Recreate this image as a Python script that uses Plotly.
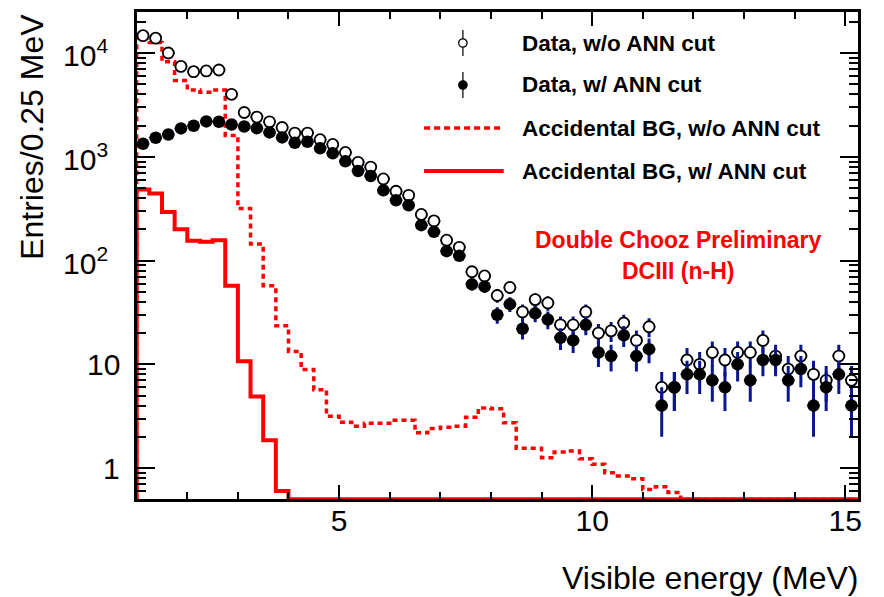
import numpy as np
import plotly.graph_objects as go

# ---------------- data ----------------
BIN_WIDTH = 0.25
E_MIN, E_MAX = 1.0, 15.25
Y_MIN, Y_MAX = 0.5, 25000.0

# Data, w/o ANN cut (entries per 0.25 MeV bin, bins from 1.0 to 15.25 MeV)
data_wo_ann = [14700, 13900, 10000, 7430, 6610, 6710, 6860, 4000,
               2670, 2410, 2170, 1915, 1690, 1690, 1460, 1315,
               1100, 883, 796, 611, 465, 425, 278, 241,
               157, 134, 78, 71, 46, 55, 32, 42,
               39, 24, 24, 32, 20, 21, 25, 17,
               23, 6, 6, 11, 10, 13, 11, 13,
               13, 17, 12, 9, 12, 8, 7, 12, 7]

# Data, w/ ANN cut
data_w_ann = [1336, 1525, 1640, 1875, 1990, 2190, 2175, 2047,
              1959, 1887, 1715, 1536, 1365, 1396, 1205, 1079,
              903, 729, 653, 475, 380, 341, 219, 189,
              123, 111, 59, 56, 30, 38, 22, 31,
              27, 18, 17, 24, 13, 12, 19, 12,
              14, 4, 6, 8, 8, 7, 6, 10,
              7, 11, 11, 7, 9, 4, 6, 8, 4]

# Accidental BG, w/o ANN cut
acc_wo_ann = [13900, 12650, 8250, 5420, 4410, 4190, 4410, 1606,
              318, 144, 57, 23.5, 13.3, 8.9, 5.7, 3.16,
              2.77, 2.53, 2.71, 2.70, 2.89, 2.89, 2.19, 2.41,
              2.48, 2.53, 3.09, 3.80, 3.72, 2.73, 1.55, 1.55,
              1.26, 1.43, 1.46, 1.23, 1.09, 0.90, 0.84, 0.79,
              0.62, 0.66, 0.58, 0, 0, 0, 0, 0,
              0, 0, 0, 0, 0, 0, 0, 0, 0]

# Accidental BG, w/ ANN cut
acc_w_ann = [483, 442, 294, 200, 155, 152, 157, 57,
             10.7, 4.9, 1.85, 0.60, 0, 0, 0, 0,
             0, 0, 0, 0, 0, 0, 0, 0,
             0, 0, 0, 0, 0, 0, 0, 0,
             0, 0, 0, 0, 0, 0, 0, 0,
             0, 0, 0, 0, 0, 0, 0, 0,
             0, 0, 0, 0, 0, 0, 0, 0, 0]

x_tick_vals = [5, 10, 15]
y_tick_vals = [1, 10, 100, 1000, 10000]
y_tick_text = ["1", "10", "10<sup>2</sup>", "10<sup>3</sup>", "10<sup>4</sup>"]

legend_labels = ["Data, w/o ANN cut", "Data, w/ ANN cut",
                 "Accidental BG, w/o ANN cut", "Accidental BG, w/ ANN cut"]

# ---------------- derived ----------------
edges = np.arange(E_MIN, E_MAX + BIN_WIDTH / 2, BIN_WIDTH)
centers = edges[:-1] + BIN_WIDTH / 2


def step_xy(vals):
    v = np.maximum(np.asarray(vals, float), Y_MIN)
    x = np.concatenate([[edges[0]], edges[:-1], [edges[-1]]])
    y = np.concatenate([[Y_MIN], v, [v[-1]]])
    return x, y


W, H = 884, 597
FONT = "Liberation Sans, Arial, Helvetica, sans-serif"
RED = "#ff0000"
BLUE = "#0a168c"

PL, PR, PT, PB = 137.3, 861.7, 11.7, 499.3  # plot area in pixels


def px(x):
    return x / W


def py(y):
    return 1 - y / H


fig = go.Figure()

# accidental histograms
xs, ys = step_xy(acc_wo_ann)
fig.add_trace(go.Scatter(x=xs, y=ys, mode="lines", line_shape="hv",
                         line=dict(color=RED, width=3.5, dash="5px,4px"),
                         showlegend=False, hoverinfo="skip"))
xs, ys = step_xy(acc_w_ann)
fig.add_trace(go.Scatter(x=xs, y=ys, mode="lines", line_shape="hv",
                         line=dict(color=RED, width=4),
                         showlegend=False, hoverinfo="skip"))

# data points
half_bin = np.full(len(centers), BIN_WIDTH / 2)
fig.add_trace(go.Scatter(
    x=centers, y=data_wo_ann, mode="markers",
    marker=dict(symbol="circle", size=11, color="white",
                line=dict(color="black", width=1.8)),
    error_y=dict(type="data", array=np.sqrt(data_wo_ann), color=BLUE,
                 thickness=3, width=0),
    error_x=dict(type="data", array=half_bin, color=BLUE, thickness=2, width=0),
    showlegend=False))
fig.add_trace(go.Scatter(
    x=centers, y=data_w_ann, mode="markers",
    marker=dict(symbol="circle", size=12.5, color="black", line=dict(width=0)),
    error_y=dict(type="data", array=np.sqrt(data_w_ann), color=BLUE,
                 thickness=3, width=0),
    error_x=dict(type="data", array=half_bin, color=BLUE, thickness=2, width=0),
    showlegend=False))

axis_common = dict(showline=True, linewidth=3, linecolor="black",
                   mirror="allticks", showgrid=False, zeroline=False,
                   ticks="inside", tickcolor="black", tickwidth=1.5)

fig.update_layout(
    width=W, height=H,
    margin=dict(l=0, r=0, t=0, b=0),
    paper_bgcolor="white", plot_bgcolor="white",
    font=dict(family=FONT, color="black"),
    showlegend=False,
    xaxis=dict(domain=[px(PL), px(PR)], range=[E_MIN, E_MAX],
               tickmode="array", tickvals=x_tick_vals, ticklen=14,
               ticklabelstandoff=-7,
               tickfont=dict(size=30, family=FONT),
               minor=dict(dtick=1, tick0=0, ticks="inside", ticklen=7,
                          tickwidth=1.5, tickcolor="black"),
               **axis_common),
    yaxis=dict(domain=[py(PB), py(PT)], type="log",
               range=[np.log10(Y_MIN), np.log10(Y_MAX)],
               dtick=1, tick0=0, ticklen=18, showticklabels=False,
               minor=dict(dtick="D1", ticks="inside", ticklen=9,
                          tickwidth=1.5, tickcolor="black"),
               **axis_common),
)

annotations = []
# y tick labels
for v, t in zip(y_tick_vals, y_tick_text):
    right = 123 if v < 100 else 110
    annotations.append(dict(x=px(right), xref="paper", y=np.log10(v), yref="y",
                            text=t, showarrow=False, xanchor="right",
                            yanchor="middle", font=dict(size=30, family=FONT)))
# axis titles
annotations.append(dict(x=px(32), y=py(12), xref="paper", yref="paper",
                        text="Entries/0.25 MeV", textangle=-90, showarrow=False,
                        xanchor="center", yanchor="top",
                        font=dict(size=32, family=FONT)))
annotations.append(dict(x=px(864), y=py(578), xref="paper", yref="paper",
                        text="Visible energy (MeV)", showarrow=False,
                        xanchor="right", yanchor="middle",
                        font=dict(size=32, family=FONT)))
# Double Chooz label
annotations.append(dict(x=px(681), y=py(240), xref="paper", yref="paper",
                        text="<b>Double Chooz Preliminary</b>", showarrow=False,
                        xanchor="center", yanchor="middle",
                        font=dict(size=23, family=FONT, color=RED)))
annotations.append(dict(x=px(681), y=py(271), xref="paper", yref="paper",
                        text="<b>DCIII (n-H)</b>", showarrow=False,
                        xanchor="center", yanchor="middle",
                        font=dict(size=23, family=FONT, color=RED)))

# legend
leg_y = [43, 85, 128, 171]
for lab, yy in zip(legend_labels, leg_y):
    annotations.append(dict(x=px(522), y=py(yy), xref="paper", yref="paper",
                            text="<b>" + lab + "</b>", showarrow=False,
                            xanchor="left", yanchor="middle",
                            font=dict(size=22.5, family=FONT)))

shapes = []
mx = 465
r = 4.2
for yy, fill in [(leg_y[0], "white"), (leg_y[1], "black")]:
    shapes.append(dict(type="line", xref="paper", yref="paper",
                       x0=px(mx), x1=px(mx), y0=py(yy - 13), y1=py(yy + 13),
                       line=dict(color="#333333", width=1.5)))
    shapes.append(dict(type="circle", xref="paper", yref="paper",
                       x0=px(mx - r), x1=px(mx + r), y0=py(yy - r), y1=py(yy + r),
                       fillcolor=fill, line=dict(color="black", width=1.3)))
shapes.append(dict(type="line", xref="paper", yref="paper",
                   x0=px(426), x1=px(506), y0=py(leg_y[2]), y1=py(leg_y[2]),
                   line=dict(color=RED, width=3.5, dash="6px,4px")))
shapes.append(dict(type="line", xref="paper", yref="paper",
                   x0=px(426), x1=px(506), y0=py(leg_y[3]), y1=py(leg_y[3]),
                   line=dict(color=RED, width=4)))

fig.update_layout(annotations=annotations, shapes=shapes)

fig.write_html("out.html")
